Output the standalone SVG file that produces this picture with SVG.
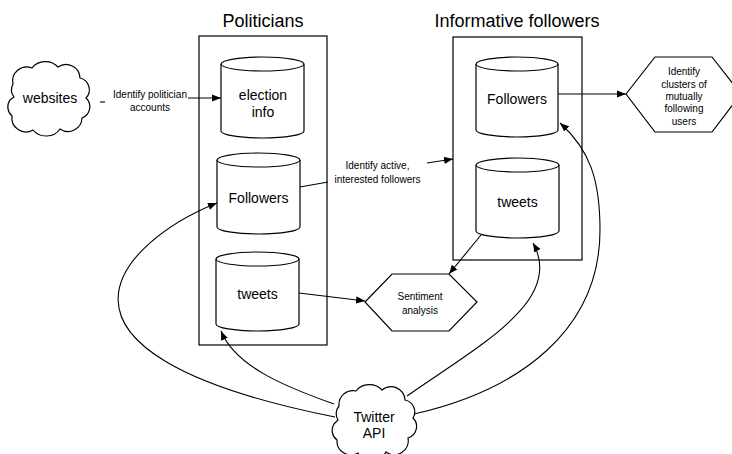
<svg xmlns="http://www.w3.org/2000/svg" width="732" height="454" viewBox="0 0 732 454">
<style>
.s{fill:#fff;stroke:#000;stroke-width:1.2}
.c{fill:none;stroke:#000;stroke-width:1.1}
.t{font-family:"Liberation Sans",Arial,sans-serif;fill:#000;text-anchor:middle}
.h{font-size:18px}
.n{font-size:14px}
.l{font-size:10px}
</style>
<defs>
<marker id="a" viewBox="0 0 10 10" refX="10" refY="5" markerWidth="9" markerHeight="9" markerUnits="userSpaceOnUse" orient="auto">
<path d="M0,1 L10,5 L0,9 Z" fill="#000"/>
</marker>
</defs>

<g id="politicians">
<rect class="s" x="199" y="36" width="128" height="309"/>
<text class="t h" x="263" y="27">Politicians</text>
</g>
<g id="informative">
<rect class="s" x="453" y="37" width="129" height="223"/>
<text class="t h" x="517" y="27">Informative followers</text>
</g>

<g id="election-info">
<path class="s" d="M221,64 A41.5,7 0 0 1 304,64 L304,131 A41.5,7 0 0 1 221,131 Z"/>
<path class="c" d="M221,64 A41.5,7 0 0 0 304,64"/>
<text class="t n" x="263" y="100">election</text>
<text class="t n" x="263" y="117">info</text>
</g>
<g id="pol-followers">
<path class="s" d="M217,160 A41.5,7 0 0 1 300,160 L300,227 A41.5,7 0 0 1 217,227 Z"/>
<path class="c" d="M217,160 A41.5,7 0 0 0 300,160"/>
<text class="t n" x="258.5" y="203">Followers</text>
</g>
<g id="pol-tweets">
<path class="s" d="M216,259 A41.5,7 0 0 1 299,259 L299,324 A41.5,7 0 0 1 216,324 Z"/>
<path class="c" d="M216,259 A41.5,7 0 0 0 299,259"/>
<text class="t n" x="257.5" y="299">tweets</text>
</g>
<g id="info-followers">
<path class="s" d="M476,64 A41,7 0 0 1 558,64 L558,130 A41,7 0 0 1 476,130 Z"/>
<path class="c" d="M476,64 A41,7 0 0 0 558,64"/>
<text class="t n" x="517" y="104">Followers</text>
</g>
<g id="info-tweets">
<path class="s" d="M476,165 A41.5,7 0 0 1 559,165 L559,231 A41.5,7 0 0 1 476,231 Z"/>
<path class="c" d="M476,165 A41.5,7 0 0 0 559,165"/>
<text class="t n" x="517.5" y="207">tweets</text>
</g>

<g id="clusters">
<path class="s" d="M626,94 L655,57 L712,57 L741,94 L712,132 L655,132 Z"/>
<text class="t l" x="684" y="75">Identify</text>
<text class="t l" x="684" y="87.5">clusters of</text>
<text class="t l" x="684" y="100">mutually</text>
<text class="t l" x="684" y="112">following</text>
<text class="t l" x="684" y="124.5">users</text>
</g>
<g id="sentiment">
<path class="s" d="M365,302 L392,274 L449,274 L477,302 L449,331 L392,331 Z"/>
<text class="t l" x="420" y="300">Sentiment</text>
<text class="t l" x="420" y="314">analysis</text>
</g>

<g id="websites">
<path class="s" d="M13,84 A14,14 0 0 1 32,68 A16,14 0 0 1 58,67 A14,14 0 0 1 80,78 A12,12 0 0 1 86,98 A12,12 0 0 1 82,118 A14,14 0 0 1 60,129 A16,14 0 0 1 33,130 A14,14 0 0 1 12,116 A12,12 0 0 1 10,100 L14,97 A12,12 0 0 1 13,84 Z"/>
<text class="t n" x="50" y="103">websites</text>
</g>
<g id="twitter-api">
<path class="s" d="M339,406 A14,14 0 0 1 356,391 A16,14 0 0 1 382,390 A14,14 0 0 1 405,400 A12,12 0 0 1 413,418 A12,12 0 0 1 408,438 A14,14 0 0 1 386,452 A16,14 0 0 1 358,453 A14,14 0 0 1 337,440 A12,12 0 0 1 334,424 L338,420 A12,12 0 0 1 339,406 Z"/>
<text class="t n" x="374" y="422">Twitter</text>
<text class="t n" x="374" y="438">API</text>
</g>

<g id="connectors">
<path class="c" d="M100,102 L105,102"/>
<path class="c" d="M188,98 L221,98" marker-end="url(#a)"/>
<text class="t l" x="150" y="98">Identify politician</text>
<text class="t l" x="150" y="111">accounts</text>
<path class="c" d="M300,187 L328,182"/>
<path class="c" d="M427,163 L453,159" marker-end="url(#a)"/>
<text class="t l" x="377.5" y="169">Identify active,</text>
<text class="t l" x="377.5" y="183">interested followers</text>
<path class="c" d="M558,94 L626,94" marker-end="url(#a)"/>
<path class="c" d="M299,293 L365,301" marker-end="url(#a)"/>
<path class="c" d="M481,235 L449,274" marker-end="url(#a)"/>
<path class="c" d="M335,417 C9,352 122,241 217,203" marker-end="url(#a)"/>
<path class="c" d="M334,404 C280,385 235,365 221,331" marker-end="url(#a)"/>
<path class="c" d="M407,396 C480,345 565,300 533,243" marker-end="url(#a)"/>
<path class="c" d="M414,414 C520,390 600,330 600,230 C600,180 590,150 560,123" marker-end="url(#a)"/>
</g>
</svg>
